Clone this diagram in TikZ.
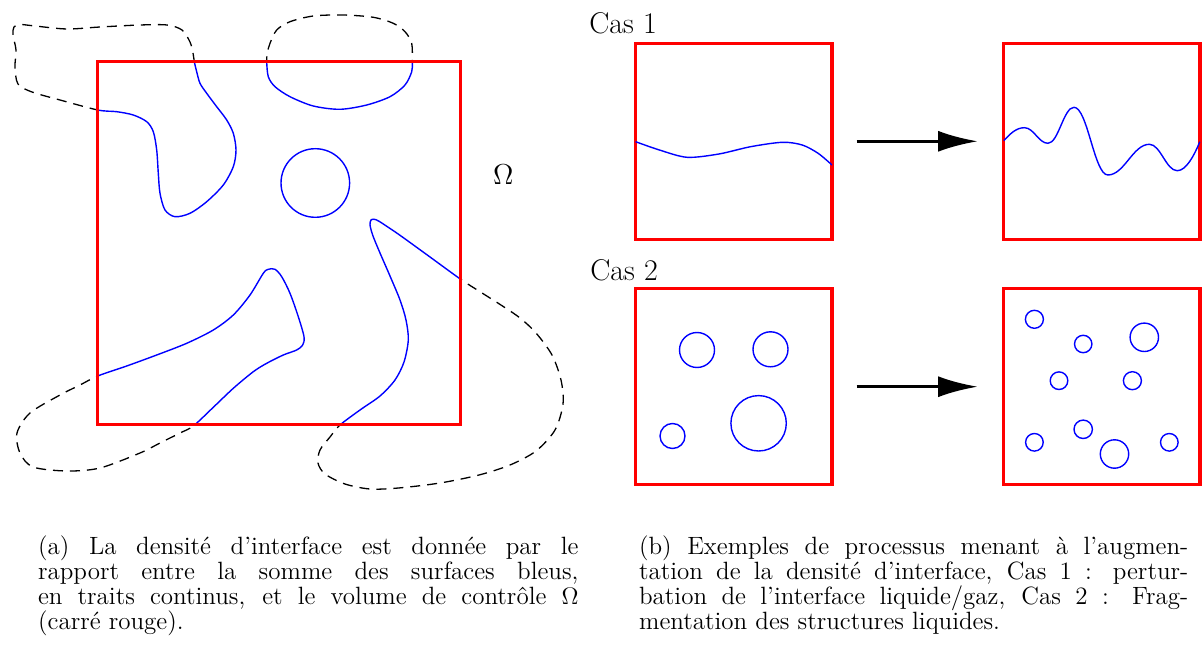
\documentclass[tikz,border=0pt]{standalone}
\usepackage{fontspec}
\usetikzlibrary{arrows.meta}

% interfaces crossing the control volume (solid inside, dashed outside)
\newcommand{\blobA}{plot[smooth cycle] coordinates {(194.3,61.7) (196.7,71.7) (200,83.3) (206.7,93.3) (216.7,106.7) (226.7,120) (233.3,133.3) (236,150) (233.3,166.7) (223.3,185) (206.7,201.7) (190,213.3) (175,216.7) (165,210) (160,193.3) (158.3,173.3) (156.7,150) (153.3,131.7) (146.7,121.7) (133.3,115) (116.7,111.7) (97.7,110) (60,100) (32,92) (18,84) (15,67) (16,50) (13,35) (14,27) (20,24.5) (35,26) (67,29) (100,27) (140,25) (167,25) (182,30) (190,42) (193,53)}}
\newcommand{\blobB}{plot[smooth cycle] coordinates {(266.7,61.7) (268.3,76.7) (275,86.7) (290,96.7) (313.3,106) (340,109.3) (366.7,105) (390,96.7) (405,85) (411.7,71.7) (412.3,61.7) (411.7,43.3) (405,31.7) (393.3,23.3) (373.3,17.3) (343.3,15) (313.3,16) (290,21.7) (276.7,30) (270,43.3) (267.3,53)}}
\newcommand{\blobC}{plot[smooth cycle] coordinates {(460.7,279.3) (430,257) (400,235.3) (383.3,224) (376,219.7) (371.3,219.7) (370,225) (373,236) (380,253) (390,276) (400,300) (406,320) (408.3,340) (404,362) (395,380) (380,396) (360,410) (340,425) (330,437) (320,450) (318,463) (325,474) (345,484) (370,489) (398.5,488) (440,483) (479,475) (510,465) (536,451) (555,430) (563,404) (561,380) (552,355) (536,333) (520,318) (502,305.7) (480,291.7)}}
\newcommand{\blobD}{plot[smooth cycle] coordinates {(97.7,376) (126.7,366) (156.7,355) (186.7,343.3) (213.3,330) (233.3,315) (250,295) (263.3,273.3) (268.3,269.3) (275,269.3) (281.7,276.7) (290,293.3) (298.3,316.7) (304,336.7) (302.7,345) (296.7,350) (283.3,355) (266.7,363.3) (253.3,371.7) (233.3,388.3) (213.3,407.3) (193.3,426) (180,433) (160,443) (140,453) (100,468) (67,471) (33,467) (20,453) (17,433) (30,413) (60,395) (80,385)}}

\begin{document}
\begin{tikzpicture}[x=0.5pt, y=-0.5pt,
    ctrl/.style={draw=red, line width=1.6pt, minimum size=#1, inner sep=0pt},
    iface/.style={blue, line width=0.7pt},
    gas/.style={line width=0.65pt, dash pattern=on 5pt off 3.5pt},
    flow/.style={-{Latex[length=20pt, width=10.5pt]}, line width=1.7pt},
    cas/.style={anchor=base west, inner sep=0pt, font=\fontsize{15}{18}\selectfont},
    legend/.style={anchor=base west, inner sep=0pt, font=\fontsize{12.5}{12.5}\selectfont}]
    \useasboundingbox (0,0) rectangle (1203,657);

    % (a) control volume Omega
    \draw[gas] \blobA \blobB \blobC \blobD;
    \fill[white] (97.7,61.7) rectangle (460.7,425);
    \begin{scope}
        \clip (97.7,61.7) rectangle (460.7,425);
        \draw[iface] \blobA \blobB \blobC \blobD;
    \end{scope}
    \node[ctrl=181.5pt] (omega) at (279.2,243.35) {};
    \draw[iface] (315.3,183) circle[radius=34.3];
    \node[font=\fontsize{15.5}{18}\selectfont, anchor=base, inner sep=0pt] (omlbl) at (503.3,185) {$\Omega$};

    % (b) Cas 1 : perturbation
    \node[cas] (cas1) at (589,33.3) {Cas 1};
    \node[ctrl=98.1pt] (c1a) at (733.8,141.3) {};
    \node[ctrl=98.1pt] (c1b) at (1101.8,141.3) {};
    \draw[flow, shorten <=11.5pt, shorten >=12pt] (c1a) -- (c1b);
    \draw[iface] plot[smooth] coordinates {(635.6,141.7) (659.4,150) (687.1,157.3) (718.9,154) (750.6,146.7) (782.4,142.3) (802.2,145) (818.1,153.3) (832,165)};
    \draw[iface] (1003.8,140.7) .. controls (1010,134) and (1016,127.7) .. (1024.4,127.7)
        .. controls (1033.8,127.7) and (1038.6,143.3) .. (1048,143.3)
        .. controls (1058.4,143.3) and (1063.6,107.3) .. (1074,107.3)
        .. controls (1087.5,107.3) and (1094.3,175) .. (1107.8,175)
        .. controls (1124.4,175) and (1132.8,144.3) .. (1149.4,144.3)
        .. controls (1160.5,144.3) and (1166.1,170.7) .. (1177.2,170.7)
        .. controls (1186,170.7) and (1194,156) .. (1199.8,141.7);

    % (b) Cas 2 : fragmentation
    \node[cas] (cas2) at (590,281) {Cas 2};
    \node[ctrl=98.1pt] (c2a) at (733.8,386.7) {};
    \node[ctrl=98.1pt] (c2b) at (1101.8,386.7) {};
    \draw[flow, shorten <=11.5pt, shorten >=12pt] (c2a) -- (c2b);
    \foreach \x/\y/\r in {697/350/17.5, 770.5/349.3/17.5, 672.5/436/12.5, 758.6/423.3/27.7}
        \draw[iface] (\x,\y) circle[radius=\r];
    \foreach \x/\y/\r in {1034.4/319.3/9, 1083.2/344/8.7, 1144.3/337.3/14.2, 1059/380.7/8.8, 1132.4/380.7/9,
                          1034.4/442.3/8.8, 1083.2/429.3/9.2, 1114.5/454/14.2, 1169.3/442.3/8.8}
        \draw[iface] (\x,\y) circle[radius=\r];

    % sub-captions
    \node[legend] (capa) at (37.7,554.7) {\vtop{\baselineskip=12.5pt \lineskiplimit=-5pt
        \hbox to 270.2pt{(a) La densité d’interface est donnée par le}
        \hbox to 270.2pt{rapport entre la somme des surfaces bleus,}
        \hbox to 270.2pt{en traits continus, et le volume de contrôle $\Omega$}
        \hbox{(carré rouge).}}};
    \node[legend] (capb) at (638.7,554.7) {\vtop{\baselineskip=12.5pt \lineskiplimit=-5pt
        \hbox to 274.6pt{(b) Exemples de processus menant à l’augmen-}
        \hbox to 274.6pt{tation de la densité d’interface, Cas 1 : pertur-}
        \hbox to 274.6pt{bation de l’interface liquide/gaz, Cas 2 : Frag-}
        \hbox{mentation des structures liquides.}}};
\end{tikzpicture}
\end{document}
